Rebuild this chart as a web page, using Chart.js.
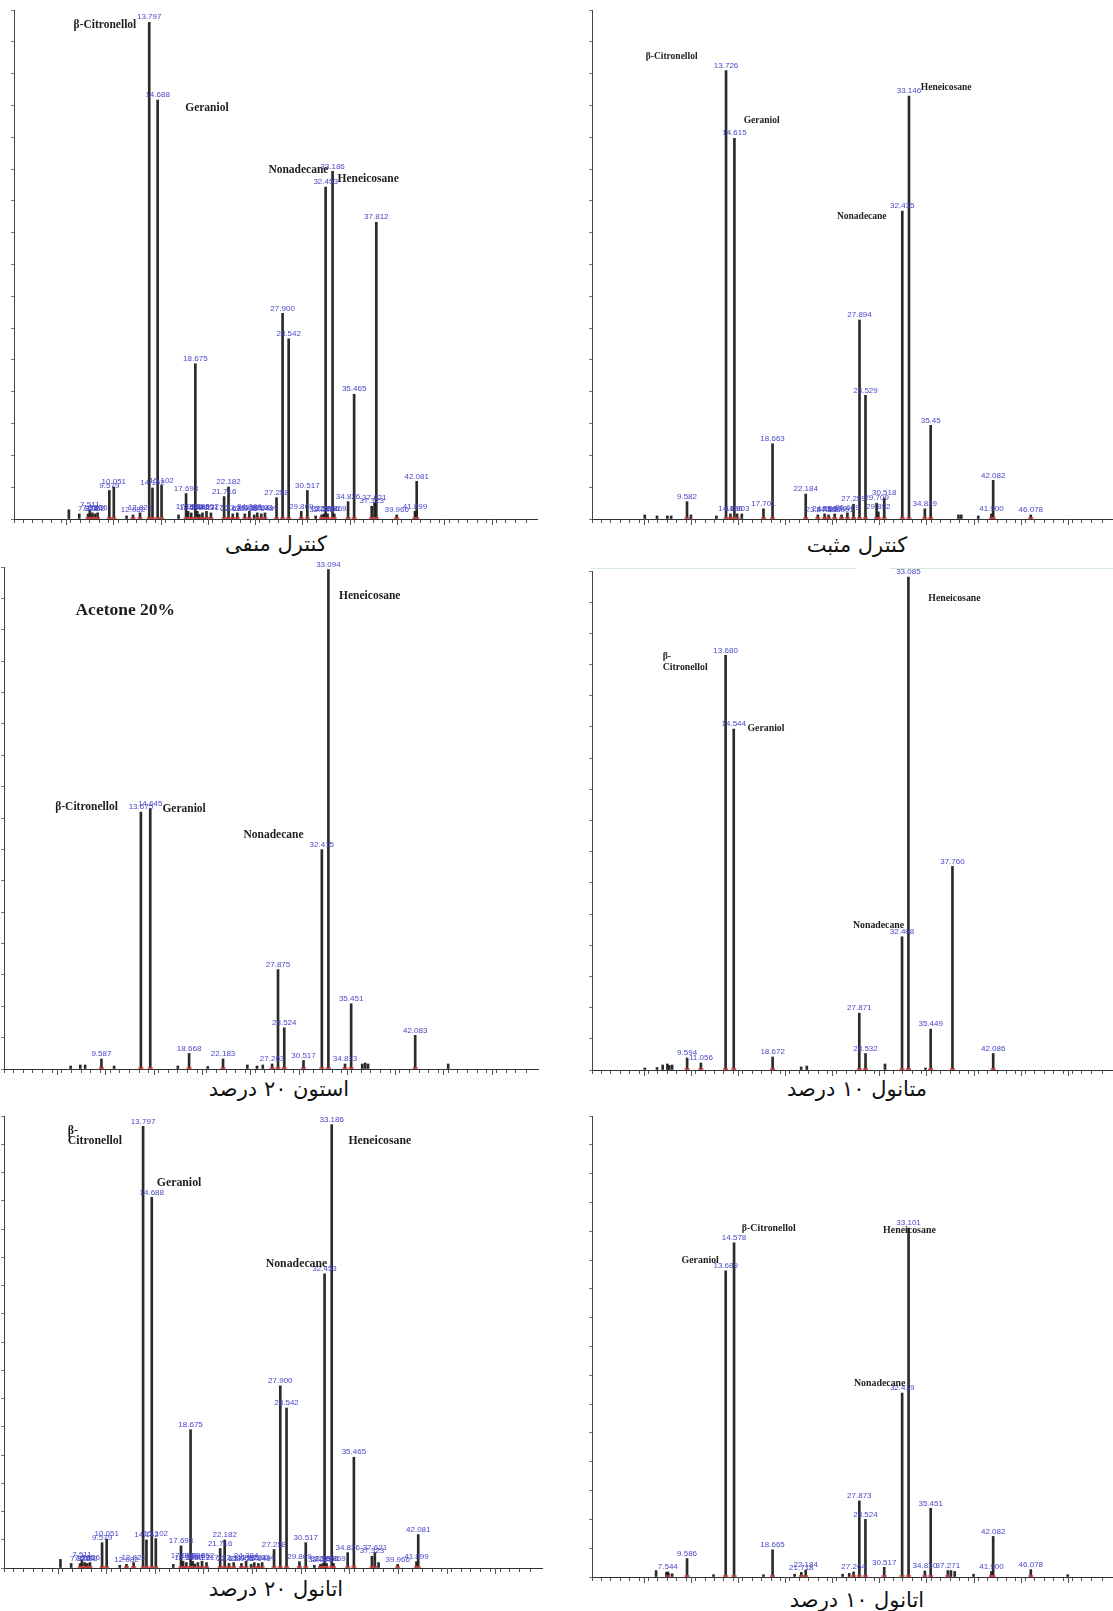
<!DOCTYPE html>
<html>
<head>
<meta charset="utf-8">
<script src="https://cdn.jsdelivr.net/npm/chart.js@4.4.1/dist/chart.umd.min.js"></script>
<style>
  html, body { margin: 0; padding: 0; background: #fff; }
  body { width: 1113px; height: 1611px; position: relative; overflow: hidden; }
  canvas { position: absolute; }
  .cap { position: absolute; width: 260px; text-align: center; direction: rtl;
         font-family: "DejaVu Sans", sans-serif; font-size: 21px; line-height: 26px; color: #111; }
  .edge { position: absolute; height: 1px; background: #d6ead6; }
</style>
</head>
<body>
<div class="edge" style="left:591px; top:568px; width:265px;"></div>
<div class="edge" style="left:890px; top:568px; width:223px;"></div>
<div class="cap" style="left:146px; top:531px;">کنترل منفی</div>
<div class="cap" style="left:727px; top:532px;">کنترل مثبت</div>
<div class="cap" style="left:149px; top:1076px;">استون ۲۰ درصد</div>
<div class="cap" style="left:727px; top:1076px;">متانول ۱۰ درصد</div>
<div class="cap" style="left:146px; top:1576px;">اتانول ۲۰ درصد</div>
<div class="cap" style="left:727px; top:1587px;">اتانول ۱۰ درصد</div>
<script>
/*---- CHROMATOGRAM DATA (retention time in min, peak height in % of axis) ----*/

// NEGATIVE CONTROL
const negTimes = ['7.326', '7.511', '7.786', '8.062', '8.336', '9.579', '10.051', '12.082', '12.821', '13.797',
  '14.142', '14.688', '15.102', '17.693', '17.906', '18.244', '18.675', '18.886', '19.427', '19.852', '20.317',
  '21.716', '22.182', '22.629', '23.111', '23.905', '24.384', '25.224', '25.648', '26.034', '27.258', '27.900',
  '28.542', '29.869', '30.517', '32.023', '32.266', '32.453', '32.656', '33.186', '33.369', '34.826', '35.465',
  '37.323', '37.621', '37.812', '39.966', '41.899', '42.081'];
const negHeights = [1.0, 1.8, 1.2, 1.0, 1.2, 5.6, 6.3, 0.8, 1.2, 97.6,
  6.1, 82.3, 6.6, 5.0, 1.5, 1.2, 30.5, 1.5, 1.2, 1.5, 1.2,
  4.4, 6.3, 1.0, 1.2, 1.0, 1.5, 1.2, 1.0, 1.2, 4.2, 40.4,
  35.4, 1.5, 5.6, 0.8, 1.0, 65.2, 1.0, 68.3, 1.0, 3.4, 24.5,
  2.5, 3.2, 58.3, 0.8, 1.5, 7.4];
const negMinorTimes = [5.3, 6.4, 11.4, 16.9, 19.1, 24.9, 31.4];
const negMinorHeights = [1.8, 1.0, 0.6, 0.8, 0.9, 0.8, 0.6];

// POSITIVE CONTROL
const posTimes = ['9.582', '13.726', '14.196', '14.615', '14.903', '17.701', '18.663', '22.184', '23.470', '24.188',
  '24.609', '25.260', '25.991', '26.609', '27.259', '27.894', '28.529', '29.709', '29.892', '30.518', '32.435',
  '33.146', '34.829', '35.45', '41.900', '42.082', '46.078'];
const posHeights = [3.4, 88.1, 1.0, 74.8, 1.0, 2.0, 14.8, 4.9, 0.8, 1.0,
  0.8, 1.0, 0.8, 1.2, 2.9, 39.1, 24.3, 3.1, 1.4, 4.1, 60.5,
  83.1, 2.0, 18.4, 1.0, 7.6, 0.8];
const posMinorTimes = [5.1, 6.4, 7.5, 7.9, 10.0, 12.7, 15.4, 38.4, 38.7, 40.5];
const posMinorHeights = [0.8, 0.6, 0.6, 0.6, 0.8, 0.6, 1.0, 0.8, 0.8, 0.6];

// ACETONE 20%
const aceTimes = ['9.587', '13.675', '14.645', '18.668', '22.183', '27.263', '27.875', '28.524', '30.517',
  '32.415', '33.094', '34.813', '35.451', '42.083'];
const aceHeights = [2.0, 51.2, 51.9, 3.1, 2.0, 1.0, 19.8, 8.2, 1.7, 43.7, 99.5, 1.0, 13.0, 6.7];
const aceMinorTimes = [6.4, 7.4, 7.9, 10.9, 17.5, 20.6, 24.7, 25.7, 26.3, 36.6, 36.9, 37.2, 45.5];
const aceMinorHeights = [0.6, 0.8, 0.8, 0.6, 0.6, 0.5, 0.8, 0.6, 0.8, 1.0, 1.2, 1.0, 1.0];

// METHANOL 10%
const metTimes = ['9.594', '11.056', '13.680', '14.544', '18.672', '27.871', '28.532', '32.408', '33.085',
  '35.449', '37.760', '42.086'];
const metHeights = [2.4, 1.4, 83.1, 68.3, 2.6, 11.4, 3.3, 26.7, 98.8, 8.2, 40.8, 3.3];
const metMinorTimes = [5.1, 6.4, 7.0, 7.5, 7.7, 8.0, 21.7, 22.3, 30.6, 34.9];
const metMinorHeights = [0.4, 0.5, 1.0, 1.2, 0.9, 1.0, 0.6, 0.8, 1.2, 0.4];

// ETHANOL 20%
const eth20Times = ['7.326', '7.511', '7.786', '8.062', '8.336', '9.579', '10.051', '12.082', '12.821', '13.797',
  '14.142', '14.688', '15.102', '17.693', '17.906', '18.244', '18.675', '18.886', '19.427', '19.852', '20.317',
  '21.716', '22.182', '22.629', '23.111', '23.905', '24.384', '25.224', '25.648', '26.034', '27.258', '27.900',
  '28.542', '29.869', '30.517', '32.023', '32.266', '32.453', '32.656', '33.186', '33.369', '34.826', '35.465',
  '37.323', '37.621', '39.966', '41.899', '42.081'];
const eth20Heights = [1.0, 1.8, 1.2, 1.0, 1.2, 5.6, 6.4, 0.8, 1.2, 97.7,
  6.2, 82.0, 6.5, 4.9, 1.5, 1.2, 30.6, 1.5, 1.2, 1.5, 1.2,
  4.3, 6.2, 1.0, 1.2, 1.0, 1.5, 1.2, 1.0, 1.2, 4.1, 40.3,
  35.4, 1.4, 5.6, 0.8, 1.0, 65.1, 1.0, 98.1, 1.0, 3.4, 24.5,
  2.6, 3.4, 0.8, 1.4, 7.4];
const eth20MinorTimes = [5.3, 6.4, 11.4, 16.9, 19.1, 24.9, 31.4, 38.0];
const eth20MinorHeights = [1.9, 1.0, 0.6, 0.8, 0.9, 0.8, 0.6, 1.2];

// ETHANOL 10%
const eth10Times = ['7.544', '9.586', '13.689', '14.578', '18.665', '21.718', '22.184', '27.264', '27.873',
  '28.524', '30.517', '32.419', '33.101', '34.830', '35.451', '37.271', '41.900', '42.082', '46.078'];
const eth10Heights = [1.1, 4.0, 66.4, 72.5, 5.9, 1.0, 1.5, 1.1, 16.5,
  12.5, 2.1, 39.9, 75.7, 1.3, 14.9, 1.4, 1.2, 8.8, 1.6];
const eth10MinorTimes = [6.3, 7.4, 7.6, 8.0, 12.4, 17.7, 21.0, 26.1, 26.8, 37.6, 38.0, 40.0, 50.0];
const eth10MinorHeights = [1.4, 1.0, 0.8, 0.7, 0.5, 0.5, 0.6, 0.6, 0.8, 1.4, 1.2, 0.6, 0.5];

const TIME_MAX = 54.3;

/*---- PANEL LAYOUT (chart area in page px) + COMPOUND NAME ANNOTATIONS ----*/
const panels = [
  { times: negTimes, heights: negHeights, minorT: negMinorTimes, minorH: negMinorHeights,
    L: 14, T: 10, R: 537, B: 519, nameSize: 11.5,
    names: [['β-Citronellol', 5.8, 97.1], ['Geraniol', 17.6, 80.8], ['Nonadecane', 26.4, 68.6], ['Heneicosane', 33.7, 66.8]] },
  { times: posTimes, heights: posHeights, minorT: posMinorTimes, minorH: posMinorHeights,
    L: 592, T: 10, R: 1113, B: 519, nameSize: 9.5,
    names: [['β-Citronellol', 5.2, 90.8], ['Geraniol', 15.6, 78.3], ['Nonadecane', 25.5, 59.5], ['Heneicosane', 34.4, 84.8]] },
  { times: aceTimes, heights: aceHeights, minorT: aceMinorTimes, minorH: aceMinorHeights,
    L: 4, T: 567, R: 538, B: 1069, nameSize: 11.5,
    title: ['Acetone 20%', 6.9, 91.3],
    names: [['β-Citronellol', 4.8, 52.2], ['Geraniol', 15.9, 51.7], ['Nonadecane', 24.3, 46.6], ['Heneicosane', 34.2, 94.3]] },
  { times: metTimes, heights: metHeights, minorT: metMinorTimes, minorH: metMinorHeights,
    L: 592, T: 571, R: 1113, B: 1070, nameSize: 9.8,
    names: [['β-', 7.0, 82.9], ['Citronellol', 7.0, 80.6], ['Geraniol', 16.0, 68.4], ['Nonadecane', 27.2, 28.9], ['Heneicosane', 35.2, 94.5]] },
  { times: eth20Times, heights: eth20Heights, minorT: eth20MinorTimes, minorH: eth20MinorHeights,
    L: 4, T: 1116, R: 542, B: 1568, nameSize: 11.8,
    names: [['β-', 6.05, 96.8], ['Citronellol', 6.05, 94.5], ['Geraniol', 15.2, 85.2], ['Nonadecane', 26.4, 67.3], ['Heneicosane', 34.9, 94.5]] },
  { times: eth10Times, heights: eth10Heights, minorT: eth10MinorTimes, minorH: eth10MinorHeights,
    L: 592, T: 1116, R: 1113, B: 1577, nameSize: 9.9,
    names: [['Geraniol', 9.0, 68.7], ['β-Citronellol', 15.4, 75.7], ['Nonadecane', 27.3, 41.9], ['Heneicosane', 30.4, 75.2]] }
];

// PEAK LABELS, RED INTEGRATION MARKS, COMPOUND NAMES
const peakLabels = {
  id: 'peakLabels',
  afterDatasetsDraw(chart, args, opts) {
    const ctx = chart.ctx;
    const xs = chart.scales.x, ys = chart.scales.y;
    const base = ys.getPixelForValue(0);
    ctx.save();
    // longer tick every 5 min
    ctx.fillStyle = '#555';
    for (let m = 5; m < TIME_MAX; m += 5) {
      ctx.fillRect(Math.round(xs.getPixelForValue(m)), base, 1, 6);
    }
    ctx.fillStyle = 'rgba(215, 60, 60, 0.75)';
    opts.times.forEach(t => {
      const x = xs.getPixelForValue(parseFloat(t));
      ctx.fillRect(x - 2.5, base - 2, 5, 2);
    });
    ctx.font = '8px "Liberation Sans", Arial, sans-serif';
    ctx.fillStyle = '#4848c8';
    ctx.textAlign = 'center';
    ctx.textBaseline = 'bottom';
    opts.times.forEach((t, i) => {
      const x = xs.getPixelForValue(parseFloat(t));
      const y = ys.getPixelForValue(opts.heights[i]);
      ctx.fillText(t, x, y - 1);
    });
    ctx.fillStyle = '#1e1e1e';
    ctx.textAlign = 'left';
    ctx.textBaseline = 'middle';
    ctx.font = 'bold ' + opts.nameSize + 'px "Liberation Serif", "Times New Roman", serif';
    opts.names.forEach(n => {
      ctx.fillText(n[0], xs.getPixelForValue(n[1]), ys.getPixelForValue(n[2]));
    });
    if (opts.title) {
      ctx.font = 'bold 17.5px "Liberation Serif", "Times New Roman", serif';
      ctx.fillText(opts.title[0], xs.getPixelForValue(opts.title[1]), ys.getPixelForValue(opts.title[2]));
    }
    ctx.restore();
  }
};

const PAD_TOP = 10, PAD_RIGHT = 4, Y_W = 8, X_H = 7;

panels.forEach(p => {
  const cv = document.createElement('canvas');
  const w = p.R - p.L + Y_W + PAD_RIGHT;
  const h = p.B - p.T + PAD_TOP + X_H;
  cv.width = w;
  cv.height = h;
  cv.style.left = (p.L - Y_W) + 'px';
  cv.style.top = (p.T - PAD_TOP) + 'px';
  document.body.appendChild(cv);

  new Chart(cv, {
    type: 'bar',
    data: {
      datasets: [{
        data: p.times.map((t, i) => ({ x: parseFloat(t), y: p.heights[i] })),
        backgroundColor: 'rgba(25, 25, 25, 0.92)',
        barThickness: 2,
        grouped: false
      }, {
        data: p.minorT.map((t, i) => ({ x: t, y: p.minorH[i] })),
        backgroundColor: 'rgba(25, 25, 25, 0.92)',
        barThickness: 2,
        grouped: false
      }]
    },
    options: {
      responsive: false,
      animation: false,
      layout: { padding: { top: PAD_TOP, right: PAD_RIGHT, left: 0, bottom: 0 } },
      plugins: {
        legend: { display: false },
        tooltip: { enabled: false },
        peakLabels: { times: p.times, heights: p.heights, names: p.names, title: p.title, nameSize: p.nameSize }
      },
      scales: {
        x: {
          type: 'linear', min: 0, max: TIME_MAX,
          afterFit: s => { s.height = X_H; },
          ticks: { display: false, stepSize: 1 },
          grid: { drawOnChartArea: false, drawTicks: true, tickLength: 4, color: '#555' },
          border: { display: true, color: '#333', width: 1 }
        },
        y: {
          min: 0, max: 100,
          afterFit: s => { s.width = Y_W; },
          ticks: { display: false, stepSize: 6.25 },
          grid: { drawOnChartArea: false, drawTicks: true, tickLength: 3, color: '#777' },
          border: { display: true, color: '#444', width: 1 }
        }
      }
    },
    plugins: [peakLabels]
  });
});
</script>
</body>
</html>
